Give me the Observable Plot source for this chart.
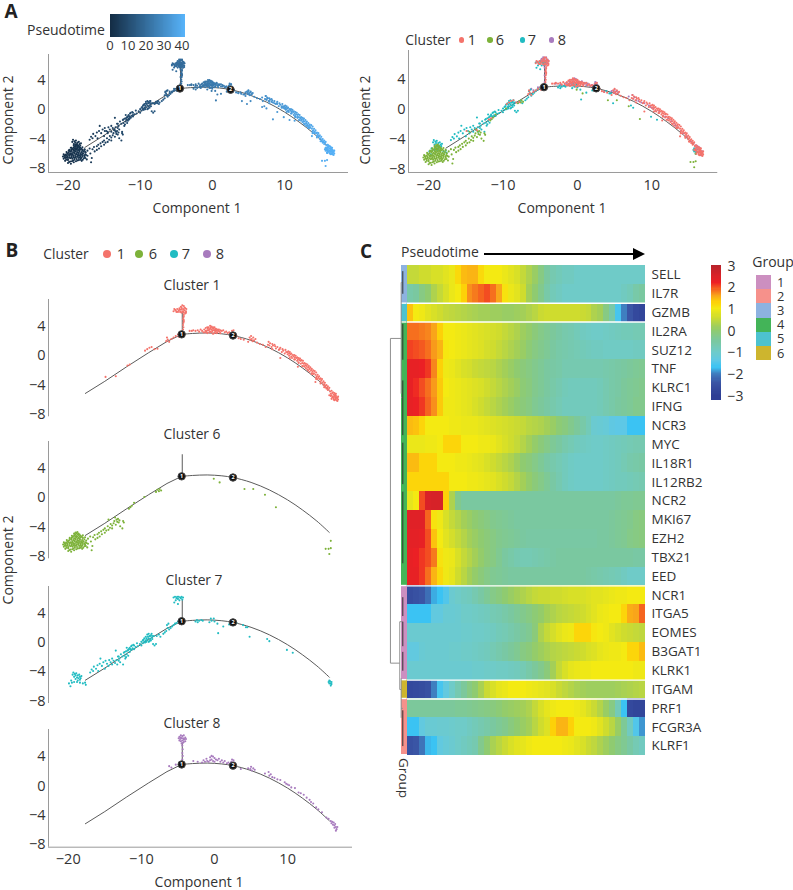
<!DOCTYPE html>
<html><head><meta charset="utf-8">
<script src="https://cdn.jsdelivr.net/npm/d3@7"></script>
<script src="https://cdn.jsdelivr.net/npm/@observablehq/plot@0.6"></script>
<style>
html,body{margin:0;padding:0;background:#fff}
#page{position:relative;width:793px;height:890px;overflow:hidden;font-family:"Open Sans",sans-serif;color:#333}
.lab{position:absolute;white-space:nowrap;transform-origin:center;line-height:1}
.box{position:absolute}
.box svg{display:block;overflow:visible;background:transparent}
</style></head><body><div id="page"></div>
<script>
// ---------- trajectory ----------
const trunkLeft=[[-17.66,-5.16],[-15,-3.5],[-12,-1.5],[-9,.42],[-6.5,1.95],[-4.49,2.93]];
const trunkRight=[[-4.49,2.93],[-3,3.05],[-1,3.12],[1,3],[2.53,2.77],[5,2.1],[7.5,1.07],[10,-.3],[12,-1.65],[14,-3.2],[15.7,-4.75]];
const branch=[[-4.41,2.93],[-4.41,5.9]];
const nodes=[[-4.49,2.93,"1"],[2.53,2.77,"2"]];
// ---------- cells by cluster (Component 1, Component 2) ----------
const cluster1=[[-5.6,6.1],[-5.4,6.3],[-5.2,6],[-5.1,6.4],[-4.9,6.2],[-4.8,6.5],[-4.7,6],[-4.6,6.3],[-4.5,6.6],[-4.4,6.1],[-4.3,6.4],[-4.2,6.8],[-4.1,6.2],[-4,6.5],[-3.9,6.1],[-3.85,6.4],[-4.5,5.9],[-4.2,5.9],[-4,5.8],[-4.3,6],[-4.6,6.7],[-4.4,6.9],[-5,6],[-5.3,6.2],[-4.1,6.6],[-3.9,5.9],[-4.2,6.3],[-4.5,6.4],[-4.8,6.3],[-5.5,6.4],
[-4.2,5.6],[-4.25,5.2],[-4.2,4.9],[-4.25,4.5],[-4.3,4.2],[-4.25,3.9],[-4.3,3.6],[-4.2,5.4],[-4.3,5],[-4.2,4.7],
[-14.9,-2.9],[-13.5,-2.8],[-11.9,-1.35],[-11.6,-1.2],[-9.2,.9],[-8.9,1.1],[-8.6,1.2],[-9.5,.7],[-8.2,.9],[-7.8,.95],[-6.6,2],[-6.5,2.5],[-6.4,2.2],[-6.2,1.9],[-5.9,2.3],[-5.6,2.5],[-5.3,2.7],[-5,2.9],[-4.9,2.6],
[-3.4,3.4],[-3.1,3.4],[-2.9,3.5],[-2.6,3.4],[-2.3,3.5],[-2.1,3.3],[-1.9,3.6],[-1.7,3.4],[-1.5,3.2],[-1.4,3.6],[-1.2,3.8],[-1.2,3.4],[-1,3.9],[-1,3.5],[-1,3.1],[-.8,3.9],[-.8,3.5],[-.7,3.2],[-.6,4.1],[-.6,3.7],[-.6,3.3],[-.4,4],[-.4,3.6],[-.4,3.2],[-.2,3.9],[-.2,3.5],[-.2,3],[0,3.9],[0,3.5],[0,3.1],[.2,3.7],[.2,3.4],[.4,3.6],[.4,3.2],[.6,3.6],[.8,3.5],[.8,3.1],[1,3.4],[1.2,3.5],[1.4,3.2],[1.6,3.3],[1.8,3.1],[2,3.2],[2.2,3],[2.4,3.4],[2.5,3.1],[2.6,3.5],[2.7,2.9],
[-.9,3.7],[-.7,3.6],[-.5,3.9],[-.3,3.8],[-.1,3.7],[.1,3.6],[.3,3.5],[.5,3.4],[.7,3.3],[-1.1,3.3],[-1.3,3.2],[-.3,3.4],[.1,3.3],[.3,3.1],
[3,2.7],[3.3,2.4],[3.6,2.3],[4,2.2],[4.6,1.9],[4.8,2.5],[4.9,2.2],[5,2.7],[5.1,2.3],[5.2,2],[5.3,2.5],[5.4,2.1],[5.6,2.3],[5.8,1.8],[6.2,1.6],[6.6,1.5],[7,1.2],[7.3,1.5],[7.4,1.9],[7.5,1.4],[7.6,1.7],[7.8,1.2],[7.9,1.6],[8,1.4],[8.2,1.5],[8.4,1],[8.6,1.2],[8.8,.8],[9,1.1],[9.2,.5],[9.4,.7],[9.6,.3],[9.8,.5],[10,.2],[10,.5],[10.2,0],[10.2,.3],[10.4,.2],[10.5,-.1],[10.6,-.3],[10.7,.1],[10.8,-.1],[11,-.5],[11,-.2],[11.2,-.3],[11.3,-.7],[11.4,-.5],[11.5,-.9],[11.6,-.6],[11.8,-.7],[11.8,-1.1],[12,-1],[12,-1.4],[12.2,-1.1],[12.3,-1.5],[12.4,-1.3],[12.5,-1.7],[12.6,-1.4],[12.8,-1.6],[12.8,-2],[13,-1.8],[13,-2.2],[13.2,-2],[13.3,-2.4],[13.4,-2.2],[13.5,-2.5],[13.6,-2.4],[13.8,-2.6],[13.9,-3],[14,-2.8],[14.1,-3.2],[14.2,-3],[14.4,-3.2],[14.5,-3.6],[14.6,-3.4],[14.8,-3.7],[14.9,-4],[15,-3.9],[15.1,-4.3],[15.2,-4.1],[15.3,-4.5],[15.4,-4.4],[15.5,-4.7],[15.6,-4.6],[9,-.3],[7.9,.9],[11.4,-1.5],[13.8,-3.6],
[8.3,1.3],[8.9,.9],[9.3,.9],[9.7,.8],[10.1,.6],[10.3,.5],[10.5,.3],[10.9,.1],[11.1,0],[11.3,-.2],[11.5,-.3],[11.7,-.4],[11.9,-.6],[12.1,-.7],[12.3,-1],[12.5,-1.1],[12.7,-1.2],[12.9,-1.4],[13.1,-1.6],[13.3,-1.8],[13.5,-2],[13.7,-2.1],[13.9,-2.3],[14.1,-2.6],[14.3,-2.8],[14.5,-3.1],[14.7,-3.2],[14.9,-3.5],[15.1,-3.7],[15.3,-4],[15.5,-4.2],[15.7,-4.4],[10.3,-.3],[10.9,-.5],[11.5,-1],[12.1,-1.4],[12.7,-1.9],[13.3,-2.5],[13.9,-3.2],[14.5,-3.8],[15,-4.3],
[15.8,-4.9],[15.9,-5.2],[16,-4.8],[16,-5.4],[16.1,-5.1],[16.2,-5.6],[16.2,-5],[16.3,-5.3],[16.3,-5.8],[16.4,-5.5],[16.4,-5.1],[16.5,-5.7],[16.5,-5.3],[16.5,-6],[16.6,-5.5],[16.6,-5.9],[16.7,-5.7],[16.7,-6.1],[16.8,-5.8],[16.8,-6.2],[16.9,-6],[16.9,-5.6],[16.3,-6],[16.1,-5.7],[15.9,-5.5],[16.6,-5.2],[16.4,-6.1],[15.7,-5.4],[16,-5.9]];
const cluster6=[[-20,-7.3],[-19.6,-7.4],[-19.2,-7.2],[-20.4,-7],[-20,-6.9],[-19.7,-7.1],[-19.3,-6.95],[-18.9,-7.05],[-18.5,-6.9],[-18.1,-7],
[-20.6,-6.7],[-20.3,-6.6],[-20,-6.75],[-19.7,-6.65],[-19.4,-6.7],[-19.1,-6.6],[-18.8,-6.75],[-18.5,-6.6],[-18.2,-6.7],[-17.8,-6.65],[-17.4,-6.8],
[-20.7,-6.4],[-20.4,-6.35],[-20.1,-6.45],[-19.8,-6.3],[-19.5,-6.4],[-19.2,-6.35],[-18.9,-6.45],[-18.6,-6.3],[-18.3,-6.4],[-18,-6.35],[-17.7,-6.45],[-17.3,-6.3],
[-20.6,-6.1],[-20.3,-6.15],[-20,-6.05],[-19.7,-6.1],[-19.4,-6.15],[-19.1,-6],[-18.8,-6.1],[-18.5,-6.05],[-18.2,-6.15],[-17.9,-6],[-17.6,-6.1],
[-20.2,-5.8],[-19.9,-5.85],[-19.6,-5.75],[-19.3,-5.8],[-19,-5.7],[-18.7,-5.85],[-18.4,-5.75],[-18.1,-5.8],[-17.8,-5.7],
[-19.8,-5.5],[-19.5,-5.45],[-19.2,-5.55],[-18.9,-5.4],[-18.6,-5.5],[-18.3,-5.45],[-18,-5.5],[-17.7,-5.4],
[-19.5,-5.2],[-19.2,-5.15],[-18.9,-5.25],[-18.6,-5.1],[-18.3,-5.2],[-18,-5.15],[-19.2,-4.9],[-18.9,-4.85],[-18.6,-4.9],
[-20.15,-6.55],[-19.85,-6.5],[-19.55,-6.55],[-19.25,-6.5],[-18.95,-6.55],[-18.65,-6.45],[-18.35,-6.55],[-19.55,-6.2],[-19.25,-6.25],[-18.95,-6.2],[-18.65,-6.2],[-18.35,-6.25],[-19.45,-5.95],[-19.15,-5.9],[-18.85,-5.95],[-18.55,-5.9],[-18.25,-5.95],[-19.05,-5.6],[-18.75,-5.65],[-18.45,-5.6],
[-20.45,-6.55],[-20.5,-6.25],[-20.25,-6.85],[-19.85,-7.15],[-19.45,-7.05],[-19.1,-6.85],[-18.7,-6.95],[-18.3,-6.85],[-17.95,-6.85],[-17.6,-6.6],[-17.5,-6.2],[-17.75,-6.25],[-18.05,-6.15],[-18.1,-6.55],[-17.95,-5.95],[-17.55,-5.85],[-20.15,-6.25],[-19.85,-6.2],[-20.1,-5.95],[-19.8,-5.65],[-19.55,-5.6],[-19.35,-5.35],[-19.05,-5.3],[-18.75,-5.3],[-18.45,-5.3],[-18.15,-5.35],[-19.05,-5.05],[-18.75,-5],[-18.45,-5.05],[-18.75,-4.7],[-19,-4.75],
[-17.3,-5.6],[-17,-5.3],[-16.9,-6],[-16.8,-7.2],[-16.7,-6.6],[-16.6,-5.4],[-16.4,-5.1],[-16.3,-5.7],[-16,-5],[-16,-5.5],[-15.8,-4.8],[-15.7,-5.3],[-15.5,-4.6],[-15.4,-5],[-15.2,-4.4],[-15,-4.2],[-15,-4.8],[-14.8,-4.5],[-14.6,-3.9],[-14.5,-4.4],[-14.3,-4.1],[-14.2,-3.6],[-14,-3.8],[-14,-4.2],[-13.8,-3.5],[-13.7,-3.2],[-13.5,-3.7],[-13.4,-3],[-13.3,-3.3],[-13.2,-2.9],[-13.1,-3.4],[-13,-3.1],[-12.9,-3.9],[-12.6,-4.2],[-12.5,-3.2],[-12.4,-3.4],[-13.6,-2.7],[-14.5,-3],
[-11.7,-1.5],[-11.5,-1.3],[-11.3,-1.1],[-11,-.7],[-9.6,.1],[-8,.8],[-7.8,1.1],[-7.6,.9],[-7.5,1.2],[-7.3,1],
[-.1,2.6],[.7,2.1],[4.1,1.2],[5.3,1.2],[6.9,.4],[8.4,-1.3],[15.9,-5.9],[15.9,-6.9],[15.2,-7],[15.6,-7],[15.7,-7.7]];
const cluster7=[[-19.4,-4.4],[-19.3,-4.1],[-19.2,-4.7],[-19.1,-4.3],[-19,-5],[-19,-4.5],[-18.9,-4.2],[-18.8,-4.8],[-18.7,-5.2],[-18.7,-4.5],[-18.6,-4.9],[-18.5,-4.4],[-18.4,-4.7],[-18.4,-5.1],[-18.3,-4.9],[-18.2,-4.6],[-19.6,-5.2],[-19.5,-5.5],[-19.9,-5.6],[-19.7,-6],[-19.2,-5.4],[-18.8,-5.4],[-18.4,-5.5],[-18,-5.6],[-17.7,-5.5],[-17.6,-5.8],
[-17,-4.1],[-16.8,-3.7],[-16.6,-3.9],[-16.5,-3.3],[-16.2,-3.6],[-16,-3.1],[-15.9,-3.9],[-15.7,-2.9],[-15.6,-2.2],[-15.4,-3.2],[-15.2,-2.7],[-15,-3.6],[-14.9,-2.5],[-14.7,-2.9],[-14.5,-3.2],[-14.4,-2.4],[-14.2,-2.7],[-14,-2.2],[-14,-3],[-13.8,-2.5],[-13.6,-2.8],[-13.5,-1.1],[-13.4,-2.4],[-13.3,-3],[-13.2,-1.9],[-13,-2.2],[-12.9,-2.7],[-12.8,-1.6],[-12.6,-1.9],[-12.5,-3],[-12.4,-1.4],[-12.3,-1.8],[-12.2,-2.2],[-12.1,-1.2],[-12,-1.6],[-12,-.7],[-11.8,-1],[-11.8,-1.8],[-11.6,-.7],[-11.6,-1.3],[-11.4,-.5],[-11.4,-1],[-11.2,-.8],[-11,-.4],[-11,-.9],[-10.8,-.6],[-10.6,-.1],[-10.5,-.5],[-10.2,-.2],[-10,.1],[-10,-.4],[-9.8,.3],[-9.8,-.1],[-9.6,.6],[-9.6,.1],[-9.4,.8],[-9.4,.3],[-9.2,1.1],[-9.2,.4],[-9,1.2],[-9,.6],[-8.9,.2],[-8.8,.9],[-8.8,.5],[-8.6,1.2],[-8.6,.7],[-8.4,-.2],[-8.2,-.4],[-8,-.2],[-7.9,.9],[-7.6,1.1],[-7.4,.8],[-7,1.2],[-6.8,1.4],[-6.6,1.6],[-6.5,2.4],[-6.4,2],[-6.3,2.6],[-6.2,1.8],[-6,2],[-5.8,2.2],[-5.6,2.4],[-5.4,2.6],[-5.2,2.7],[-5,2.9],
[-9.7,.4],[-9.5,0],[-9.3,.6],[-9.1,.8],[-8.9,.9],[-8.7,1],[-8.7,.3],[-8.5,.9],[-8.5,.5],[-8.3,.9],[-9,.1],[-9.3,.1],[-11.9,-1.1],[-11.7,-.9],[-11.5,-.9],[-11.3,-.4],[-11.1,-.3],[-12.3,-1.3],[-12.1,-2],[-13.1,-2.5],[-13.1,-1.9],
[-5.6,6.2],[-5.5,5.5],[-5.4,6.3],[-5.3,5.8],[-5.2,6.1],[-5.1,6.3],[-5,5.3],[-5,6],[-4.9,6.3],[-4.8,5.8],[-4.7,6.2],[-4.6,6.1],[-4.5,6.3],[-4.4,5.9],[-4.3,6.2],
[-2.6,2.9],[-2.3,2.8],[-2.1,3],[-1.8,3.1],[-2.4,3.1],[-1.6,3],[-.7,2.8],[-.4,3],[-.5,3.3],[0,2.9],[-.1,3.3],[.4,2.6],[.5,1.3],[1.2,2.2],[2,2.5],[3,2.7],[3.9,2.4],[4.3,2.1],[4.5,2.1],[4.8,.8],[7.2,.5],[7.5,.2],[9.9,-1],[10.7,-1.4],
[15.6,-5.4],[15.7,-5.6],[15.8,-5.3],[15.9,-5.6],[16,-5.4],[15.9,-5.9],[15.7,-5.2],[16,-5.7]];
const cluster8=[[-4.9,6.5],[-4.8,6.2],[-4.8,6.7],[-4.7,6.4],[-4.6,6.9],[-4.6,6.1],[-4.5,6.5],[-4.4,6.8],[-4.4,6.2],[-4.3,6.5],[-4.2,6.9],[-4.2,6],[-4.1,6.4],[-4,6.6],[-4,6.1],[-3.9,6.4],[-4.5,5.8],[-4.3,5.9],[-4.6,6.6],[-4.2,6.3],
[-4.4,5.5],[-4.35,5],[-4.4,4.5],[-4.35,4.1],[-4.4,3.6],[-6.2,2.7],[-5.9,2.5],[-5.3,2.9],
[-2.9,3.4],[-2.3,3.3],[-1.7,3.2],[-1.5,3.5],[-1.3,3.3],[-1.1,3.7],[-1,3.4],[-.8,3.3],[-.6,3.9],[-.6,3.5],[-.4,4.1],[-.4,3.6],[-.2,4],[-.2,3.4],[0,3.8],[0,3.3],[.2,3.6],[.4,3.5],[.6,3.7],[.8,3.3],[1,3.5],[1.2,3.2],[1.4,3.4],[1.7,3.1],[1.9,3.2],[2.1,3],[2.3,3.3],[2.4,3.6],[2.5,3.1],[2.6,3.5],[2.7,3.2],
[3.6,2.3],[4.6,2.4],[4.9,2.3],[5,2.6],[5.1,2.1],[5.3,2.4],[5.5,2.2],[6.9,1.7],[7.4,1.9],[7.5,1.4],[7.7,1.6],[7.9,1.2],[8.2,1.1],[8.6,.9],[9,.8],[9.6,.5],[9.8,.3],[10,.2],[10.2,.1],[10.5,-.2],[11,-.3],[11.5,-.9],[11.8,-1],[12.2,-1.2],[12.6,-1.6],[13,-1.9],[13.2,-2.2],[13.5,-2.4],[13.9,-2.9],[14.2,-3.2],[14.7,-3.6],[15.3,-4.3],[15.6,-4.5],[15.9,-4.8],[16,-5.1],[16.1,-4.9],[16.2,-5.3],[16.3,-5],[16.4,-5.4],[16.4,-5.7],[16.5,-5.2],[16.6,-5.6],[16.7,-5.9],[16.8,-5.6],[16.6,-6.1]];
const clusterNames=["1","6","7","8"];
const clusterColors=["#F4736B","#7DB23A","#21BCC2","#A87BBE"];
const pseudoKnotsX=[-21,-13,-8,-4.5,0,2.5,10,17];
const pseudoKnotsT=[1,8,14,20,24,26,34,41];
const branchPseudotime=20;
const xTickVals=[-20,-10,0,10];
const yTickVals=[-8,-4,0,4];
// ---------- heatmap ----------
const rowSELL=[.5,.5,.6,.6,.7,.7,.8,.9,1.2,1.45,1.5,1.5,1.2,1,1,1,.9,.8,.7,.5,.3,.1,-.2,-.5,-.7,-.8,-.9,-.9,-1,-1,-1,-1,-1,-1,-1,-1,-1,-1,-1,-1];
const rowIL7R=[-.6,-.5,-.2,0,.3,.5,.7,.9,1,1.3,1.7,1.8,1.9,2,1.85,1.6,1.1,.9,.8,.6,.2,0,-.3,-.6,-.8,-.9,-1,-1,-1,-1,-1,-1,-1,-1,-1,-1,-.9,-.8,-.6,-.5];
const rowGZMB=[1.4,1,.95,.8,.7,.6,.5,.45,.4,.35,.3,.25,.2,.2,.15,.15,.1,.1,.15,.2,.3,.4,.55,.6,.6,.6,.6,.6,.6,.55,.5,.3,.2,-.2,-.6,-1.6,-2,-2.4,-2.7,-2.8];
const rowIL2RA=[1.85,1.85,1.8,1.75,1.6,1.3,1,1,.95,.9,.85,.8,.75,.7,.65,.6,.5,.4,.3,.15,.05,-.1,-.25,-.35,-.45,-.55,-.65,-.7,-.8,-.9,-.95,-1,-1,-.95,-.9,-.85,-.8,-.8,-.75,-.75];
const rowSUZ12=[2.05,2,1.95,1.85,1.65,1.5,1.05,1,.95,.9,.85,.8,.75,.65,.6,.5,.4,.3,.2,.1,-.05,-.2,-.3,-.4,-.5,-.6,-.65,-.7,-.75,-.8,-.85,-.9,-.9,-.95,-.95,-.95,-.95,-.95,-.9,-.9];
const rowTNF=[2.3,2.3,2.25,2.1,1.75,1.3,.95,.9,.8,.7,.65,.55,.5,.45,.4,.3,.2,.1,0,-.1,-.2,-.3,-.4,-.5,-.55,-.6,-.7,-.7,-.7,-.7,-.7,-.7,-.7,-.65,-.6,-.55,-.5,-.45,-.4,-.35];
const rowKLRC1=[2.3,2.15,2,1.85,1.65,1.35,1,.95,.9,.85,.8,.75,.7,.6,.5,.4,.3,.2,.1,-.05,-.15,-.3,-.4,-.5,-.6,-.7,-.8,-.85,-.85,-.85,-.85,-.85,-.8,-.7,-.6,-.55,-.45,-.4,-.35,-.3];
const rowIFNG=[2.3,2.25,2.1,1.9,1.7,1.35,.95,.95,.9,.85,.8,.7,.6,.5,.4,.3,.2,.1,0,-.1,-.2,-.35,-.45,-.55,-.65,-.75,-.85,-.85,-.85,-.85,-.85,-.85,-.8,-.7,-.6,-.5,-.45,-.4,-.3,-.3];
const rowNCR3=[1.45,1.4,1.25,1,1,1,1,.95,.95,.9,.9,.9,.85,.8,.75,.7,.65,.6,.55,.5,.4,.35,.3,.2,.1,-.05,-.15,-.3,-.45,-.6,-.8,-1.1,-1.15,-1.2,-1.35,-1.4,-1.4,-1.7,-1.7,-1.7];
const rowMYC=[.9,.9,.9,.95,.95,1,1.25,1.25,1.25,1,1,1,.95,.95,.9,.8,.7,.6,.5,.35,.2,.05,-.1,-.25,-.4,-.5,-.65,-.75,-.85,-.9,-.95,-1,-1,-.95,-.9,-.85,-.8,-.75,-.7,-.7];
const rowIL18R1=[1.45,1.45,1.25,1.25,1.25,1,1,1,.95,.95,.9,.85,.8,.7,.6,.5,.4,.3,.15,0,-.1,-.25,-.4,-.55,-.65,-.75,-.85,-.95,-1,-1,-1,-1,-1,-.95,-.9,-.85,-.75,-.65,-.6,-.55];
const rowIL12RB2=[1.25,1.25,1.25,1.25,1.25,1.25,1.25,1,1,1,.95,.95,.9,.85,.8,.7,.6,.5,.35,.2,.05,-.1,-.25,-.4,-.55,-.7,-.85,-.95,-1,-1,-1,-1,-1,-.95,-.9,-.85,-.85,-.8,-.75,-.7];
const rowNCR2=[.85,1,2,2.5,2.55,2.55,1.3,.3,-.3,-.5,-.5,-.5,-.5,-.5,-.5,-.5,-.5,-.5,-.5,-.5,-.5,-.5,-.5,-.5,-.5,-.5,-.5,-.5,-.5,-.5,-.5,-.5,-.5,-.5,-.5,-.45,-.4,-.4,-.35,-.35];
const rowMKI67=[2.4,2.4,2.4,1.9,1.1,.95,.7,.5,.35,.2,.1,0,-.1,-.2,-.3,-.35,-.4,-.45,-.5,-.5,-.5,-.5,-.5,-.5,-.5,-.5,-.5,-.5,-.5,-.5,-.5,-.5,-.5,-.5,-.45,-.4,-.35,-.3,-.2,-.15];
const rowEZH2=[2.35,2.35,2.3,2,1.4,1,.8,.65,.5,.35,.2,.1,0,-.1,-.2,-.3,-.35,-.4,-.45,-.5,-.55,-.55,-.55,-.55,-.55,-.55,-.55,-.55,-.55,-.55,-.55,-.55,-.5,-.5,-.45,-.4,-.35,-.25,-.2,-.15];
const rowTBX21=[2.3,2.25,2.1,2,1.8,1.1,.95,.9,.7,.5,.35,.2,.05,-.1,-.2,-.35,-.5,-.6,-.7,-.75,-.75,-.7,-.65,-.6,-.55,-.5,-.5,-.5,-.5,-.5,-.5,-.5,-.5,-.5,-.5,-.5,-.5,-.5,-.55,-.55];
const rowEED=[2.3,2.3,2.1,1.85,1.5,1.2,.95,.85,.6,.4,.2,.05,-.1,-.25,-.35,-.4,-.45,-.5,-.5,-.5,-.5,-.5,-.5,-.5,-.5,-.5,-.5,-.5,-.5,-.5,-.55,-.6,-.65,-.7,-.75,-.8,-.9,-1,-1,-1];
const rowNCR1=[-2.6,-2.5,-2.4,-2.15,-1.8,-1.7,-1.5,-1.1,-1,-.9,-.85,-.7,-.55,-.4,-.25,-.15,0,.1,.2,.3,.4,.5,.55,.55,.6,.6,.65,.7,.7,.7,.75,.8,.8,.85,.9,.95,.95,1,1,1];
const rowITGA5=[-1.7,-1.7,-1.7,-1.7,-1.3,-1.3,-1.15,-1.15,-1.1,-1,-1,-.95,-.9,-.85,-.75,-.7,-.6,-.5,-.4,-.3,-.2,-.05,.05,.2,.3,.4,.45,.5,.55,.6,.7,.8,.9,.95,1,1,1.25,1.55,1.6,1.9];
const rowEOMES=[-1.1,-1.1,-1.1,-1.1,-1.1,-1.1,-1.1,-1.1,-1.1,-1.05,-1.05,-1,-1,-.95,-.9,-.8,-.75,-.65,-.55,-.45,-.35,-.1,.3,.5,.65,.8,.9,.95,1.25,1.25,1.25,1.05,1,.95,.8,.7,.6,.55,.5,.45];
const rowB3GAT1=[-1.3,-1.3,-1.15,-1.1,-1.1,-1.1,-1.1,-1.05,-1.05,-1,-1,-.95,-.9,-.85,-.75,-.65,-.55,-.45,-.35,-.2,-.1,.05,.15,.25,.35,.4,.45,.5,.55,.6,.7,.75,.85,.9,.95,.95,1,1.25,1.25,1.45];
const rowKLRK1=[-1.1,-1.1,-1.1,-1.1,-1.1,-1.1,-1.1,-1.1,-1.1,-1.1,-1.1,-1.05,-1.05,-1,-1,-.95,-.95,-.9,-.85,-.75,-.6,-.45,-.3,-.1,.2,.5,.7,.85,.9,.95,.95,1,1,1,1,1,1,1,.95,.95];
const rowITGAM=[-2.7,-2.65,-2.6,-2.5,-2,-1.6,-1.3,-1,-.7,-.45,-.2,0,.25,.55,.7,.85,.9,1,1,1,.95,.9,.85,.8,.7,.55,.45,.35,.25,.2,.15,.15,.15,.15,.15,.2,.25,.3,.35,.4];
const rowPRF1=[-.45,-.45,-.45,-.45,-.45,-.45,-.45,-.45,-.4,-.4,-.35,-.3,-.25,-.2,-.15,-.05,.05,.1,.15,.2,.3,.5,.7,.85,.95,1,1,1,.95,.85,.7,.55,.35,.1,-.2,-.8,-1.7,-2.7,-2.8,-2.8];
const rowFCGR3A=[-1.7,-1.7,-1.3,-1.15,-1.15,-1.1,-1.1,-1.05,-1,-1,-.9,-.8,-.7,-.6,-.5,-.4,-.3,-.15,0,.1,.2,.4,.6,.75,1.3,1.5,1.5,1.3,1,1,1,.95,.8,.6,.4,.1,-.4,-.9,-1.5,-1.9];
const rowKLRF1=[-2.5,-2.4,-2.1,-1.75,-1.7,-1.3,-1.2,-1.1,-1,-.9,-.8,-.7,-.3,0,.25,.4,.55,.7,.8,.85,.95,1,1,1,1,1,.95,.9,.8,.7,.55,.45,.3,.15,0,-.2,-.35,-.55,-.75,-.9];
const genes=["SELL","IL7R","GZMB","IL2RA","SUZ12","TNF","KLRC1","IFNG","NCR3","MYC","IL18R1","IL12RB2","NCR2","MKI67","EZH2","TBX21","EED","NCR1","ITGA5","EOMES","B3GAT1","KLRK1","ITGAM","PRF1","FCGR3A","KLRF1"];
const heatRows=[rowSELL,rowIL7R,rowGZMB,rowIL2RA,rowSUZ12,rowTNF,rowKLRC1,rowIFNG,rowNCR3,rowMYC,rowIL18R1,rowIL12RB2,rowNCR2,rowMKI67,rowEZH2,rowTBX21,rowEED,rowNCR1,rowITGA5,rowEOMES,rowB3GAT1,rowKLRK1,rowITGAM,rowPRF1,rowFCGR3A,rowKLRF1];
const geneGroups=[3,3,5,4,4,4,4,4,4,4,4,4,4,4,4,4,4,1,1,1,1,1,6,2,2,2];
const groupStarts=["GZMB","IL2RA","NCR1","ITGAM","PRF1"];
const groupNames=["1","2","3","4","5","6"];
const groupColors=["#CC8FC0","#F6918B","#8DB2E0","#43B458","#4DC2CF","#CDB52E"];
const heatDomain=[-3.2,-3,-2.4,-2,-1.7,-1.4,-1,-.5,0,.2,.6,1,1.3,1.6,1.9,2.2,2.5,3,3.05];
const heatRange=["#2E3E94","#2E3E94","#3A55A5","#3F7FC0","#3BC3F3","#5EC8E6","#6FCBC8","#7AC8A0","#8FCB70","#A3CF58","#CFDC2E","#F4EA12","#FDD108","#F9A51A","#F5641F","#EE2024","#D92228","#B8232B","#B8232B"];
// dendrogram: [height1,row1,height2,row2]
const dendroGray=[[11.2,3.87,11.2,21.1],[11.2,3.87,2,3.87],[11.2,21.1,3.2,21.1],[2,.9,2,6.8],[3.2,18.9,3.2,22.5],[3.2,18.9,.6,18.9],[3.2,22.5,2,22.5],[2,21.9,2,24],[1,.9,2,.9],[.6,7,2,7],[.6,23.5,2,23.5]];
const dendroDark=[[.6,.3,.6,1.5],[.6,3.1,.6,5],[.6,6.1,.6,9],[.6,9.4,.6,11.6],[.6,12,.6,15.8],[.6,17.6,.6,18.6],[.6,18.9,.6,20.2],[.6,20.5,.6,21.5],[.6,23.6,.6,25.5]];
const heatTicks=[-3,-2,-1,0,1,2,3];
const pseudoTicks=[0,10,20,30,40];

// ---------- helpers ----------
const FONT='"Open Sans",sans-serif', TXT="#333";
const page=document.getElementById("page");
function place(el,left,top){const d=document.createElement("div");d.className="box";d.style.left=left+"px";d.style.top=top+"px";d.appendChild(el);page.appendChild(d);}
function label(t,x,y,size=14,rot=0,extra={}){const d=document.createElement("div");d.className="lab";d.textContent=t;d.style.left=x+"px";d.style.top=y+"px";d.style.fontSize=size+"px";d.style.transform=`translate(-50%,-50%) rotate(${rot}deg)`;Object.assign(d.style,extra);page.appendChild(d);}
function dotLegend(x,y,r,color){const d=document.createElement("div");d.className="lab";Object.assign(d.style,{left:(x-r)+"px",top:(y-r)+"px",width:2*r+"px",height:2*r+"px",borderRadius:"50%",background:color});page.appendChild(d);}
const style={fontFamily:FONT,color:TXT,background:"transparent",overflow:"visible"};
const XDOM=[-22.7,18.87];
const minusFmt=d=>String(d).replace("-","\u2212");
const toPts=(a,c)=>a.map(([x,y])=>({x,y,c}));
const tScale=d3.scaleLinear(pseudoKnotsX,pseudoKnotsT);
const pt=d=>(d.y>3.5&&Math.abs(d.x+4.4)<1.3)?branchPseudotime:tScale(d.x);
const all=[...toPts(cluster8,"8"),...toPts(cluster7,"7"),...toPts(cluster6,"6"),...toPts(cluster1,"1")];

function traj(){return [
  Plot.line(trunkLeft,{x:"0",y:"1",stroke:"#5a5a5a",strokeWidth:1}),
  Plot.line(trunkRight,{x:"0",y:"1",stroke:"#5a5a5a",strokeWidth:1,curve:"catmull-rom"}),
  Plot.line(branch,{x:"0",y:"1",stroke:"#5a5a5a",strokeWidth:1})];}
function nodeMarks(){return [
  Plot.dot(nodes,{x:"0",y:"1",r:3.7,fill:"#111",stroke:"#444",strokeWidth:1}),
  Plot.text(nodes,{x:"0",y:"1",text:"2",fill:"#fff",fontSize:5.5,fontWeight:700})];}
function scatter({L,R,T,B,yDom,xAxis,data,fill,color,r=1.05}){
  const mL=30,mR=8,mB=xAxis?24:2,mT=2;
  const marks=[
    Plot.ruleX([XDOM[0]],{stroke:"#9a9a9a",strokeWidth:1}),
    Plot.axisY({ticks:yTickVals,tickSize:0,tickPadding:3,fontSize:14.5,label:null}),
    ...(xAxis?[Plot.ruleY([yDom[0]],{stroke:"#9a9a9a",strokeWidth:1}),Plot.axisX({ticks:xTickVals,tickSize:0,tickPadding:7,fontSize:14.5,label:null})]:[]),
    ...traj(),
    Plot.dot(data,{x:"x",y:"y",r,fill,stroke:"none"}),
    ...nodeMarks()];
  const svg=Plot.plot({width:R-L+mL+mR,height:B-T+mT+mB,marginLeft:mL,marginRight:mR,marginTop:mT,marginBottom:mB,style,
    x:{domain:XDOM,...(xAxis?{}:{axis:null})},y:{domain:yDom},color,marks});
  place(svg,L-mL,T-mT);
}
const pseudoColor={type:"linear",domain:[0,41],range:["#132B43","#56B1F7"]};
const clusterColor={type:"ordinal",domain:clusterNames,range:clusterColors};

// ---------- panel A ----------
scatter({L:48,R:348,T:54,B:172,yDom:[-8.6,7.6],xAxis:true,data:all.map(d=>({...d,t:pt(d)})),fill:"t",color:pseudoColor});
scatter({L:407.7,R:717,T:50,B:172,yDom:[-8.4,7.8],xAxis:true,data:all,fill:"c",color:clusterColor});
label("A",11,11,19,0,{fontWeight:700,color:"#222"});
label("Pseudotime",66,30,14);
place(Plot.plot({width:76,height:44,marginLeft:0,marginRight:0,marginTop:0,marginBottom:21,style,
  x:{domain:[-.3,42]},color:pseudoColor,
  marks:[Plot.rect(d3.range(0,42,.5),{x1:d=>d,x2:d=>d+.5,fill:d=>d,shapeRendering:"crispEdges"}),
         Plot.axisX({ticks:pseudoTicks,tickSize:0,tickPadding:3,fontSize:13,label:null})]}),109.3,14.3);
label("Component 2",8,120,14,-90);
label("Component 1",197,208,14);
label("Component 2",365,120,14,-90);
label("Component 1",562,208,14);
label("Cluster",428,40,13.8);
[[461.7,468,"1"],[490,496,"6"],[522.3,528,"7"],[551.3,558,"8"]].forEach(([dx,tx,n],i)=>{dotLegend(dx,40,2.8,clusterColors[i]);label(n,tx+4,40,14.5);});

// ---------- panel B ----------
label("B",12,250,19,0,{fontWeight:700,color:"#222"});
label("Cluster",66,254,13.8);
[[107.3,121,"1"],[139.3,153,"6"],[174.3,186,"7"],[207.3,220,"8"]].forEach(([dx,tx,n],i)=>{dotLegend(dx,253.7,4,clusterColors[i]);label(n,tx,254,14.5);});
const bPanels=[[cluster1,0,298.7,416,192,285],[cluster6,1,440.7,558,192,434],[cluster7,2,586,703,194,580],[cluster8,3,729,846.7,192,723]];
bPanels.forEach(([pts,i,T,B,cx,cy])=>{
  scatter({L:48,R:352,T,B,yDom:[-8.36,7.7],xAxis:i===3,data:toPts(pts,clusterNames[i]),fill:"c",color:clusterColor});
  label("Cluster "+clusterNames[i],cx,cy,13.8);
});
label("Component 2",8,560,14,-90);
label("Component 1",199,882,14);

// ---------- panel C ----------
label("C",366,251,19,0,{fontWeight:700,color:"#222"});
label("Pseudotime",440,252,14);
const arrow=document.createElementNS("http://www.w3.org/2000/svg","svg");
arrow.setAttribute("width",170);arrow.setAttribute("height",16);
arrow.innerHTML='<path d="M2 8H154" stroke="#000" stroke-width="1.8"/><path d="M151 2L163 8L151 14Z" fill="#000"/>';
place(arrow,482,246);
const heatColor={type:"linear",domain:heatDomain,range:heatRange,clamp:true};
const colIdx=d3.range(40);
const heatData=heatRows.flatMap((row,i)=>row.map((v,j)=>({g:genes[i],j,v})));
place(Plot.plot({width:238+60,height:490,marginLeft:0,marginRight:60,marginTop:0,marginBottom:0,style,
  x:{domain:colIdx,padding:0,round:false,axis:null},y:{domain:genes,padding:0,round:false,label:null},color:heatColor,
  marks:[Plot.cell(heatData,{x:"j",y:"g",fill:"v",shapeRendering:"crispEdges"}),
    Plot.ruleY(groupStarts,{y:d=>d,dy:-490/52,stroke:"#fff",strokeWidth:1.4}),
    Plot.axisY({anchor:"right",tickSize:0,tickPadding:6,fontSize:13.5,label:null})]}),407,265);
place(Plot.plot({width:5.6,height:490,margin:0,style,
  x:{domain:["g"],padding:0,round:false,axis:null},y:{domain:genes,padding:0,round:false,axis:null},
  color:{type:"ordinal",domain:groupNames,range:groupColors},
  marks:[Plot.cell(genes,{x:()=>"g",y:d=>d,fill:(d,i)=>String(geneGroups[i]),shapeRendering:"crispEdges"}),
    Plot.ruleY(groupStarts,{y:d=>d,dy:-490/52,stroke:"#fff",strokeWidth:1.4})]}),400.7,265);
place(Plot.plot({width:14,height:490,margin:0,style,x:{domain:[12,0],axis:null},y:{domain:[0,26],reverse:true,axis:null},
  marks:[Plot.link(dendroGray,{x1:"0",y1:"1",x2:"2",y2:"3",stroke:"#8f8f8f",strokeWidth:1}),
         Plot.link(dendroDark,{x1:"0",y1:"1",x2:"2",y2:"3",stroke:"#333",strokeWidth:1})]}),388.5,265);
label("Group",403,778,13.5,90);
// colour bar
place(Plot.plot({width:40,height:134.7,marginLeft:0,marginRight:30,marginTop:0,marginBottom:0,style,
  x:{axis:null},y:{domain:[-3.18,3.03]},color:heatColor,
  marks:[Plot.rect(d3.range(-3.2,3.05,.05),{y1:d=>d,y2:d=>d+.05,fill:d=>d,shapeRendering:"crispEdges"}),
    Plot.axisY({anchor:"right",ticks:heatTicks,tickFormat:minusFmt,tickSize:0,tickPadding:6,fontSize:14,label:null})]}),710.7,265.3);
// group legend
label("Group",773,262,14);
place(Plot.plot({width:16.3+24,height:92.6,marginLeft:0,marginRight:24,marginTop:0,marginBottom:0,style,
  x:{domain:["g"],padding:0,round:false,axis:null},y:{domain:groupNames,padding:0,round:false},color:{type:"ordinal",domain:groupNames,range:groupColors},
  marks:[Plot.cell(groupNames,{x:()=>"g",y:d=>d,fill:d=>d,shapeRendering:"crispEdges"}),
    Plot.axisY({anchor:"right",tickSize:0,tickPadding:6,fontSize:14,label:null})]}),756,274.7);
</script></body></html>
